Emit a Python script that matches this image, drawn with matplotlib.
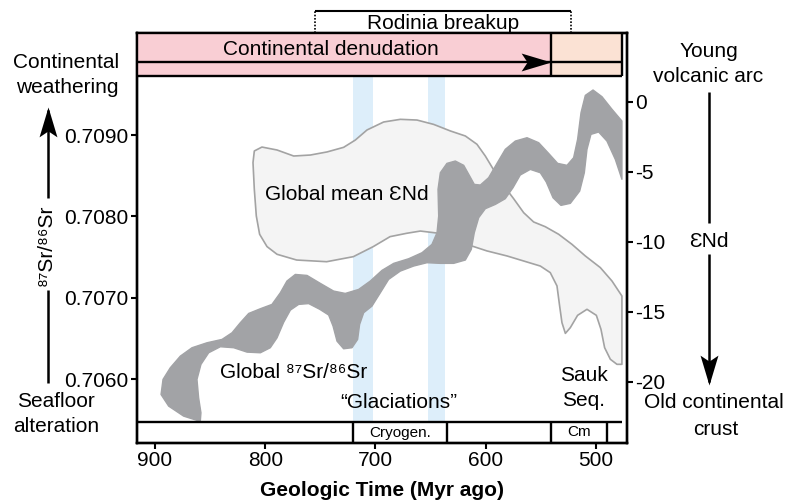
import matplotlib
matplotlib.use("Agg")
import matplotlib.pyplot as plt
import matplotlib.transforms as mtransforms
from matplotlib.path import Path

plt.rcParams['font.family'] = ['Liberation Sans', 'DejaVu Sans']
plt.rcParams['axes.unicode_minus'] = False

# ---------------- data ----------------
age_ticks = [900, 800, 700, 600, 500]
age_tick_labels = ['900', '800', '700', '600', '500']
sr_ticks = [0.7060, 0.7070, 0.7080, 0.7090]
sr_tick_labels = ['0.7060', '0.7070', '0.7080', '0.7090']
end_ticks = [0, -5, -10, -15, -20]
end_tick_labels = ['0', '-5', '-10', '-15', '-20']

age_lim = (916.3, 471.9)
sr_lim = (0.705218, 0.710253)
end_lim = (-24.38, 4.907)
panel_right = 476.4

glaciations = [(720, 702), (652, 637)]
period_bounds = [720, 635, 541, 490]
period_names = ['Cryogen.', 'Cm']
period_spans = [(720, 635), (541, 490)]
denudation_end = 541
rodinia_span = (755, 523)

# Global 87Sr/86Sr band outline (age in Myr, ratio)
sr_band_age = [858.9, 874.0, 887.6, 894.5, 892.7, 886.1, 877.0, 866.4, 852.8, 839.2,
               830.1, 822.6, 815.0, 804.4, 793.9, 786.3, 780.3, 772.7, 762.1, 750.0,
               738.0, 727.4, 715.3, 704.7, 694.1, 683.5, 669.9, 657.8, 648.8, 644.2,
               642.7, 643.3, 641.2, 635.2, 627.6, 620.0, 614.6, 610.4, 604.9, 597.4,
               589.8, 582.3, 573.2, 562.6, 552.0, 543.0, 534.8, 526.3, 520.3, 516.7,
               513.6, 509.7, 502.7, 494.6, 485.5, 476.5,
               476.5, 482.5, 490.1, 497.6, 504.6, 508.2, 510.6, 514.8, 523.3, 531.8,
               539.0, 545.1, 550.5, 559.6, 568.7, 575.3, 582.3, 591.3, 600.4, 606.4,
               610.4, 613.1, 618.5, 629.1, 641.2, 653.3, 665.4, 677.5, 688.1, 695.6,
               703.2, 710.7, 714.4, 716.2, 721.3, 728.9, 734.9, 738.5, 742.5, 750.6,
               760.6, 769.7, 777.2, 783.3, 789.3, 795.4, 804.4, 816.5, 828.6, 840.7,
               851.3, 858.3, 861.9, 860.4, 858.3]
sr_band_ratio = [0.705483, 0.705548, 0.705671, 0.705814, 0.705999, 0.706142, 0.706285, 0.706388, 0.706449, 0.706490,
                 0.706572, 0.706695, 0.706809, 0.706867, 0.706920, 0.707063, 0.707207, 0.707288, 0.707276, 0.707178,
                 0.707084, 0.707055, 0.707104, 0.707207, 0.707338, 0.707424, 0.707481, 0.707555, 0.707657, 0.707800,
                 0.708005, 0.708333, 0.708537, 0.708652, 0.708681, 0.708628, 0.708497, 0.708394, 0.708386, 0.708476,
                 0.708652, 0.708824, 0.708926, 0.708967, 0.708906, 0.708775, 0.708652, 0.708628, 0.708722, 0.708947,
                 0.709275, 0.709487, 0.709553, 0.709471, 0.709316, 0.709172,
                 0.708456, 0.708701, 0.708926, 0.709037, 0.709008, 0.708824, 0.708537, 0.708312, 0.708161, 0.708136,
                 0.708230, 0.708423, 0.708537, 0.708578, 0.708509, 0.708353, 0.708218, 0.708148, 0.708095, 0.707985,
                 0.707800, 0.707596, 0.707465, 0.707424, 0.707424, 0.707432, 0.707391, 0.707329, 0.707227, 0.707063,
                 0.706899, 0.706818, 0.706674, 0.706490, 0.706388, 0.706375, 0.706469, 0.706654, 0.706790, 0.706860,
                 0.706930, 0.706920, 0.706850, 0.706700, 0.706510, 0.706388, 0.706326, 0.706334, 0.706388, 0.706400,
                 0.706326, 0.706183, 0.705999, 0.705773, 0.705589]

# Global mean eNd field outline (age in Myr, eNd)
nd_field_age = [809.9, 803.0, 789.3, 774.2, 759.1, 744.0, 728.9, 718.3, 707.7, 692.6,
                677.5, 662.4, 647.3, 632.1, 618.5, 608.0, 600.4, 591.3, 582.3, 574.7,
                565.6, 556.6, 546.0, 533.9, 521.8, 509.7, 496.1, 485.5, 476.5,
                476.5, 481.0, 487.0, 492.2, 495.5, 499.7, 508.2, 516.7, 523.3, 527.8,
                530.9, 533.0, 535.4, 541.5, 550.5, 565.6, 580.7, 598.9, 612.5, 629.1,
                644.5, 659.3, 671.7, 686.8, 702.0, 720.1, 744.3, 771.5, 789.3, 798.4,
                805.1, 808.1, 809.9, 811.1]
nd_field_end = [-3.52, -3.24, -3.45, -3.88, -3.81, -3.59, -3.26, -2.74, -2.02, -1.45,
                -1.26, -1.31, -1.62, -2.09, -2.45, -3.04, -3.88, -5.07, -6.14, -6.93,
                -7.93, -8.59, -8.93, -9.47, -10.19, -11.02, -11.85, -12.81, -13.88,
                -18.76, -18.76, -18.40, -17.57, -16.26, -15.26, -14.83, -15.26, -16.14, -16.55,
                -15.78, -14.59, -13.16, -12.21, -11.74, -11.38, -11.02, -10.66, -10.31, -9.83,
                -9.38, -9.24, -9.40, -9.64, -10.35, -11.07, -11.43, -11.31, -10.90, -10.35,
                -9.47, -8.16, -6.26, -4.35]

# ---------------- styles ----------------
FS = 15
LW = 1.7
SR_COLOR = '#A2A3A6'
ND_FILL = '#F4F4F4'
ND_EDGE = '#A3A3A3'
GLAC = '#DDEEFA'
PINK = '#F9CED4'
PEACH = '#FBE2D4'
EPS = 'Ɛ'
SR_RATIO = '⁸⁷Sr/⁸⁶Sr'

W, H = 789, 501
fig = plt.figure(figsize=(W / 100, H / 100), dpi=100)
ax = fig.add_axes([137 / W, 1 - 443 / H, 490 / W, 410 / H])
ax2 = ax.twinx()

# vertical fractions of the axes
y_bar_top = (443 - 422) / 410
y_box_bot = (443 - 76) / 410
y_box_mid = (443 - 62) / 410
y_rod = (443 - 11) / 410

trans = mtransforms.blended_transform_factory(ax.transData, ax.transAxes)

# glaciation bands
for a0, a1 in glaciations:
    ax.axvspan(a1, a0, ymin=y_bar_top, ymax=y_box_bot, color=GLAC, lw=0, zorder=1)

# eNd field (on right axis scale)
ax.fill(nd_field_age, nd_field_end, transform=ax2.transData, facecolor=ND_FILL,
        edgecolor=ND_EDGE, lw=1.2, joinstyle='round', zorder=2)

# Sr band
ax.fill(sr_band_age, sr_band_ratio, facecolor=SR_COLOR, edgecolor=SR_COLOR, lw=1.0,
        joinstyle='round', zorder=3)

# top box
ax.axvspan(denudation_end, age_lim[0], ymin=y_box_bot, ymax=1, color=PINK, lw=0, zorder=4)
ax.axvspan(panel_right, denudation_end, ymin=y_box_bot, ymax=1, color=PEACH, lw=0, zorder=4)
for yy in (y_box_bot, y_box_mid):
    ax.plot([age_lim[0], panel_right], [yy, yy], transform=trans, color='k', lw=LW,
            clip_on=False, zorder=5, solid_capstyle='butt')
for xx in (denudation_end, panel_right):
    ax.plot([xx, xx], [y_box_bot, 1], transform=trans, color='k', lw=LW,
            clip_on=False, zorder=5, solid_capstyle='butt')

arrow_right = Path([(0, 0), (-1, 0.3), (-0.8, 0), (-1, -0.3), (0, 0)],
                   [Path.MOVETO, Path.LINETO, Path.LINETO, Path.LINETO, Path.CLOSEPOLY])
arrow_up = Path([(0, 0), (-0.3, -1), (0, -0.8), (0.3, -1), (0, 0)],
                [Path.MOVETO, Path.LINETO, Path.LINETO, Path.LINETO, Path.CLOSEPOLY])
arrow_down = Path([(0, 0), (-0.3, 1), (0, 0.8), (0.3, 1), (0, 0)],
                  [Path.MOVETO, Path.LINETO, Path.LINETO, Path.LINETO, Path.CLOSEPOLY])

ax.plot([denudation_end], [y_box_mid], transform=trans, marker=arrow_right, ms=43, mew=0,
        color='k', clip_on=False, zorder=6)

# bottom period bar
ax.plot([age_lim[0], panel_right], [y_bar_top, y_bar_top], transform=trans, color='k',
        lw=LW, clip_on=False, zorder=5, solid_capstyle='butt')
for b in period_bounds:
    ax.plot([b, b], [0, y_bar_top], transform=trans, color='k', lw=LW, zorder=5,
            solid_capstyle='butt')
for name, (a0, a1) in zip(period_names, period_spans):
    ax.text((a0 + a1) / 2, (443 - 436.5) / 410, name, transform=trans, ha='center',
            va='baseline', fontsize=11, zorder=6)

# Rodinia breakup bracket
ax.plot(list(rodinia_span), [y_rod, y_rod], transform=trans, color='k', lw=1.5,
        clip_on=False, solid_capstyle='butt')
for xx in rodinia_span:
    ax.plot([xx, xx], [1, y_rod], transform=trans, color='k', lw=1.2, ls=(0, (1, 1)),
            clip_on=False)
ax.text(sum(rodinia_span) / 2, (443 - 29) / 410, 'Rodinia breakup', transform=trans,
        ha='center', va='baseline', fontsize=FS)

# axes, ticks
ax.set_xlim(age_lim)
ax.set_ylim(sr_lim)
ax2.set_ylim(end_lim)
ax.set_xticks(age_ticks)
ax.set_xticklabels(age_tick_labels)
ax.set_yticks(sr_ticks)
ax.set_yticklabels(sr_tick_labels)
ax2.set_yticks(end_ticks)
ax2.set_yticklabels(end_tick_labels)
ax.tick_params(axis='y', direction='out', length=4.5, width=1.5, labelsize=FS, pad=2)
ax.tick_params(axis='x', direction='out', length=4.5, width=1.5, labelsize=FS, pad=1)
ax2.tick_params(axis='y', direction='out', length=4.5, width=1.5, labelsize=FS, pad=1.5)
for a in (ax, ax2):
    for s in a.spines.values():
        s.set_linewidth(LW)
        s.set_color('k')
ax.set_zorder(1)
ax2.set_zorder(2)
ax2.patch.set_visible(False)

# overlay for annotations in pixel space
ov = fig.add_axes([0, 0, 1, 1], zorder=10)
ov.set_xlim(0, W)
ov.set_ylim(H, 0)
ov.axis('off')
ov.patch.set_visible(False)

def t(x, y, s, **kw):
    kw.setdefault('fontsize', FS)
    kw.setdefault('ha', 'center')
    kw.setdefault('va', 'baseline')
    ov.text(x, y, s, **kw)

t(330.5, 55, 'Continental denudation')
t(66, 68, 'Continental')
t(67, 93, 'weathering')
t(56, 407, 'Seafloor')
t(56, 432, 'alteration')
t(709, 56.5, 'Young')
t(708, 81.5, 'volcanic arc')
t(714, 408, 'Old continental')
t(716, 435, 'crust')
t(709, 246.5, EPS + 'Nd')
t(46, 245, SR_RATIO, rotation=90, va='center')
t(265.3, 200, 'Global mean ' + EPS + 'Nd', ha='left')
t(220.3, 377.5, 'Global ' + SR_RATIO, ha='left')
t(398.7, 407.5, '“Glaciations”')
t(583.7, 381, 'Sauk')
t(583.7, 406, 'Seq.')
t(382, 496.5, 'Geologic Time (Myr ago)', fontweight='bold')

# side arrows
ov.plot([48.3, 48.3], [383, 290], color='k', lw=1.8, solid_capstyle='butt')
ov.plot([48.3, 48.3], [198, 110], color='k', lw=1.8, solid_capstyle='butt')
ov.plot([48.3], [107], marker=arrow_up, ms=43, mew=0, color='k')
ov.plot([709.3, 709.3], [92, 223], color='k', lw=1.8, solid_capstyle='butt')
ov.plot([709.3, 709.3], [254, 382], color='k', lw=1.8, solid_capstyle='butt')
ov.plot([709.3], [385], marker=arrow_down, ms=43, mew=0, color='k')

fig.savefig('out.png', dpi=100)
